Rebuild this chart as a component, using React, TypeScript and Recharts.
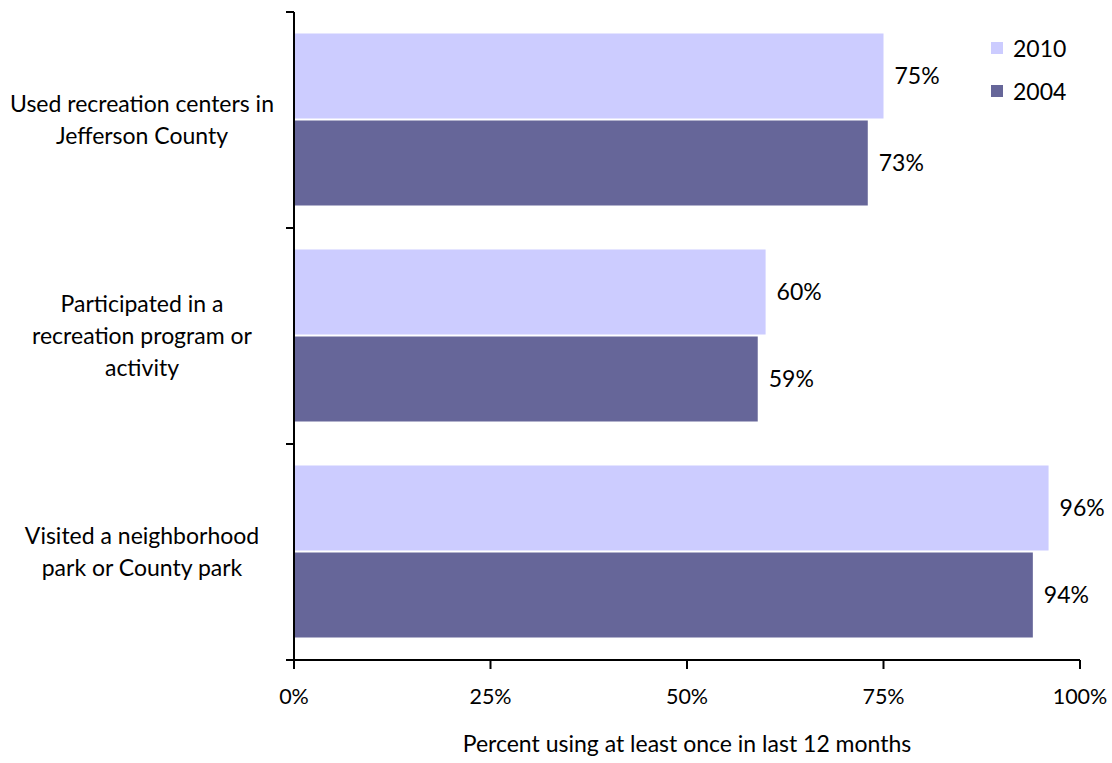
import React from 'react';
import { BarChart, Bar, XAxis, YAxis, LabelList } from 'recharts';

const categories = [
    'Used recreation centers in|Jefferson County',
    'Participated in a|recreation program or|activity',
    'Visited a neighborhood|park or County park',
];
const values2010 = [75, 60, 96];
const values2004 = [73, 59, 94];
const seriesNames = ['2010', '2004'];
const seriesColors = ['#ccccff', '#666699'];
const xTicks = [0, 25, 50, 75, 100];
const axisTitle = 'Percent using at least once in last 12 months';

const data = categories.map((name, i) => ({ name, y2010: values2010[i], y2004: values2004[i] }));

const FONT = 'Lato, "Open Sans", sans-serif';
const BAND = 216; // (660 - 12) / 3

const CategoryTick = (props: any) => {
    const { x, y, payload, index } = props;
    const lines = String(payload.value).split('|');
    const lh = 32;
    const start = y - ((lines.length - 1) * lh) / 2;
    return (
        <g>
            <line x1={x} x2={x + 8} y1={y - BAND / 2} y2={y - BAND / 2} stroke="#000" strokeWidth={2} />
            {index === categories.length - 1 && (
                <line x1={x} x2={x + 8} y1={y + BAND / 2} y2={y + BAND / 2} stroke="#000" strokeWidth={2} />
            )}
            {lines.map((l, i) => (
                <text key={i} x={142} y={start + i * lh} dy="0.35em" textAnchor="middle"
                    fontFamily={FONT} fontSize={23} fill="#000">{l}</text>
            ))}
        </g>
    );
};

export default function App() {
    return (
        <div style={{ position: 'absolute', left: 0, top: 0, width: 1112, height: 763, background: '#fff' }}>
            <BarChart
                width={1112}
                height={763}
                data={data}
                layout="vertical"
                margin={{ top: 12, right: 32, left: 14, bottom: 43 }}
                barCategoryGap="10%"
                barGap={2}
            >
                <XAxis
                    type="number"
                    domain={[0, 100]}
                    ticks={xTicks}
                    tickFormatter={(v) => `${v}%`}
                    axisLine={{ stroke: '#000', strokeWidth: 2 }}
                    tickLine={{ stroke: '#000', strokeWidth: 2 }}
                    tickSize={9}
                    tick={{ fill: '#000', fontSize: 21.5, fontFamily: FONT, dy: 18 }}
                    height={60}
                    label={{ value: axisTitle, position: 'insideBottom', offset: -32, fill: '#000', fontSize: 23, fontFamily: FONT }}
                />
                <YAxis
                    type="category"
                    dataKey="name"
                    width={280}
                    axisLine={{ stroke: '#000', strokeWidth: 2 }}
                    tickLine={false}
                    tick={<CategoryTick />}
                />
                <Bar dataKey="y2010" name="2010" fill={seriesColors[0]} isAnimationActive={false}>
                    <LabelList dataKey="y2010" position="right" offset={11} formatter={(v: any) => `${v}%`}
                        style={{ fill: '#000', fontSize: 23, fontFamily: FONT }} />
                </Bar>
                <Bar dataKey="y2004" name="2004" fill={seriesColors[1]} isAnimationActive={false}>
                    <LabelList dataKey="y2004" position="right" offset={11} formatter={(v: any) => `${v}%`}
                        style={{ fill: '#000', fontSize: 23, fontFamily: FONT }} />
                </Bar>
            </BarChart>
            <div style={{ position: 'absolute', left: 991, top: 26, fontFamily: FONT, fontSize: 23, color: '#000' }}>
                {seriesNames.map((label, i) => (
                    <div key={label} style={{ display: 'flex', alignItems: 'center', height: 43 }}>
                        <span style={{ display: 'inline-block', width: 12, height: 12, background: seriesColors[i], marginRight: 10 }} />
                        {label}
                    </div>
                ))}
            </div>
        </div>
    );
}
